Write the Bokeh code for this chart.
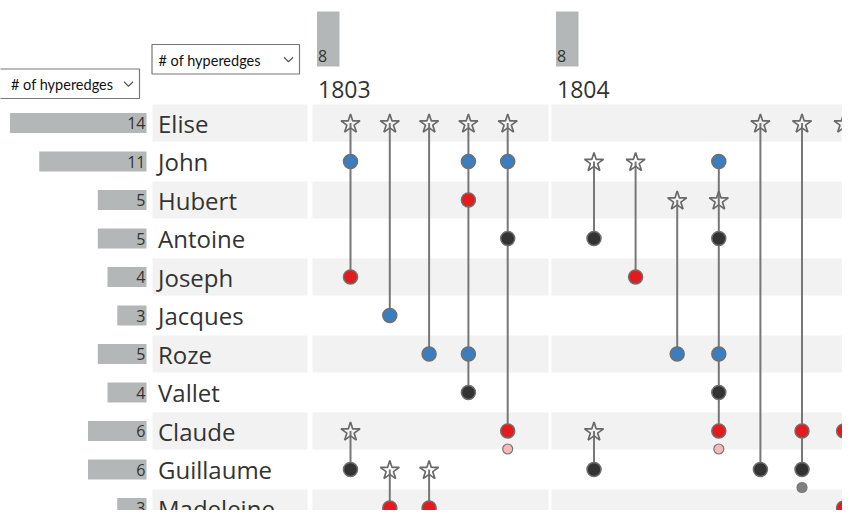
from bokeh.plotting import figure
from bokeh.models import Range1d, ColumnDataSource
from bokeh.core.properties import value
from bokeh.embed import file_html
from bokeh.resources import INLINE

# ---------------- data ----------------
names = ["Elise", "John", "Hubert", "Antoine", "Joseph", "Jacques", "Roze",
         "Vallet", "Claude", "Guillaume", "Madeleine"]
name_counts = [14, 11, 5, 5, 4, 3, 5, 4, 6, 6, 3]

years = ["1803", "1804"]
year_edge_counts = [8, 8]

# hyperedges: year index and column inside the year block
edge_year = [0, 0, 0, 0, 0, 0, 0, 0, 1, 1, 1, 1, 1, 1, 1, 1]
edge_col = [0, 1, 2, 3, 4, 0, 1, 2, 0, 1, 2, 3, 4, 5, 6, 0]

# members of each hyperedge (edge index, person, role)
node_edge = [0, 0, 0,
             1, 1,
             2, 2,
             3, 3, 3, 3, 3,
             4, 4, 4, 4,
             5, 5,
             6, 6,
             7, 7,
             8, 8,
             9, 9,
             10, 10,
             11, 11, 11, 11, 11, 11,
             12, 12,
             13, 13, 13,
             14, 14, 14,
             15, 15]
node_name = ["Elise", "John", "Joseph",
             "Elise", "Jacques",
             "Elise", "Roze",
             "Elise", "John", "Hubert", "Roze", "Vallet",
             "Elise", "John", "Antoine", "Claude",
             "Claude", "Guillaume",
             "Guillaume", "Madeleine",
             "Guillaume", "Madeleine",
             "John", "Antoine",
             "John", "Joseph",
             "Hubert", "Roze",
             "John", "Hubert", "Antoine", "Roze", "Vallet", "Claude",
             "Elise", "Guillaume",
             "Elise", "Claude", "Guillaume",
             "Elise", "Claude", "Madeleine",
             "Claude", "Guillaume"]
node_role = ["star", "blue", "red",
             "star", "blue",
             "star", "blue",
             "star", "blue", "red", "blue", "dark",
             "star", "blue", "dark", "red",
             "star", "dark",
             "star", "red",
             "star", "red",
             "star", "dark",
             "star", "red",
             "star", "blue",
             "blue", "star", "dark", "blue", "dark", "red",
             "star", "dark",
             "star", "red", "dark",
             "star", "red", "red",
             "star", "dark"]

# secondary (small) markers under a member
extra_edge = [4, 11, 13]
extra_name = ["Claude", "Claude", "Guillaume"]
extra_role = ["pink", "pink", "grey"]

# ---------------- styling / layout ----------------
role_color = {"blue": "#3b7ec0", "red": "#e41a1c", "dark": "#333333",
              "pink": "#f6b9b9", "grey": "#808080"}
ROW0, ROW_STEP, BAND_H = 122.5, 38.5, 37.0
BAR_RIGHT, BAR_UNIT, BAR_H = 146.0, 9.75, 20.0
NAME_X = 157.5
SECTIONS = [(152.0, 307.0), (312.0, 548.0), (551.0, 880.0)]
YEAR_X0 = [312.0, 551.0]
COL_OFF = [38.0, 42.5]
COL_STEP = [39.3, 41.6]
GREY_BAR = "#b4b7b7"
TEXT = "#333333"
FONT = "Open Sans"
W, H = 842, 510

def row_y(name):
    return ROW0 + ROW_STEP * names.index(name)

def col_x(e):
    y = edge_year[e]
    return YEAR_X0[y] + COL_OFF[y] + COL_STEP[y] * edge_col[e]

p = figure(width=W, height=H, x_range=Range1d(0, W), y_range=Range1d(H, 0),
           output_backend="svg", toolbar_location=None, min_border=0,
           x_axis_type=None, y_axis_type=None)
p.grid.visible = False
p.outline_line_color = None
p.background_fill_color = "white"
p.border_fill_color = "white"

# row bands
bl, br, bt, bb = [], [], [], []
for i, n in enumerate(names):
    if i % 2 == 0:
        for (a, b) in SECTIONS:
            bl.append(a); br.append(b)
            bt.append(row_y(n) - BAND_H / 2); bb.append(row_y(n) + BAND_H / 2)
p.quad(left=bl, right=br, top=bt, bottom=bb, fill_color="#f2f2f2", line_color=None)

# left bars with counts
ys = [row_y(n) for n in names]
p.quad(left=[BAR_RIGHT - c * BAR_UNIT for c in name_counts], right=[BAR_RIGHT] * len(names),
       top=[y - BAR_H / 2 for y in ys], bottom=[y + BAR_H / 2 for y in ys],
       fill_color=GREY_BAR, line_color=None)
p.text(x=[BAR_RIGHT - 1] * len(names), y=ys, text=[str(c) for c in name_counts],
       text_align="right", text_baseline="middle", text_font=value(FONT),
       text_font_size=value("16px"), text_color=TEXT)
p.text(x=[NAME_X] * len(names), y=ys, text=names, text_align="left",
       text_baseline="middle", text_font=value(FONT), text_font_size=value("24px"),
       text_color=TEXT)

# year headers
yb_x = [x + 4.5 for x in YEAR_X0]
p.quad(left=yb_x, right=[x + 22.5 for x in yb_x], top=[11] * 2, bottom=[66] * 2,
       fill_color=GREY_BAR, line_color=None)
p.text(x=[x + 1 for x in yb_x], y=[55] * 2, text=[str(c) for c in year_edge_counts],
       text_align="left", text_baseline="middle", text_font=value(FONT),
       text_font_size=value("16px"), text_color=TEXT)
p.text(x=[x + 1 for x in yb_x], y=[89] * 2, text=years, text_align="left",
       text_baseline="middle", text_font=value(FONT), text_font_size=value("23px"),
       text_color=TEXT)

# dropdown boxes
dd_left = [-6.0, 151.5]
dd_right = [139.0, 299.0]
dd_top = [68.5, 44.0]
dd_bottom = [98.0, 73.5]
p.quad(left=dd_left, right=dd_right, top=dd_top, bottom=dd_bottom,
       fill_color="white", line_color="#777777", line_width=1.2)
p.text(x=[10.5, 158.0], y=[(a + b) / 2 + 1 for a, b in zip(dd_top, dd_bottom)],
       text=["# of hyperedges"] * 2, text_align="left", text_baseline="middle",
       text_font=value("Lato"), text_font_size=value("14.5px"),
       text_color="#111111")
chev_xs, chev_ys = [], []
for r, t, b in zip(dd_right, dd_top, dd_bottom):
    cx, cy = r - 11, (t + b) / 2
    chev_xs.append([cx - 4.5, cx, cx + 4.5])
    chev_ys.append([cy - 2, cy + 2.5, cy - 2])
p.multi_line(xs=chev_xs, ys=chev_ys, line_color="#555555", line_width=1.1)

# hyperedge lines
seg_x, seg_y0, seg_y1 = [], [], []
for e in range(len(edge_year)):
    rows = [row_y(node_name[k]) for k in range(len(node_edge)) if node_edge[k] == e]
    seg_x.append(col_x(e)); seg_y0.append(min(rows)); seg_y1.append(max(rows))
p.segment(x0=seg_x, y0=seg_y0, x1=seg_x, y1=seg_y1, line_color="#777777", line_width=2)

# member markers
circ = ColumnDataSource(dict(
    x=[col_x(node_edge[k]) for k in range(len(node_edge)) if node_role[k] != "star"],
    y=[row_y(node_name[k]) for k in range(len(node_edge)) if node_role[k] != "star"],
    c=[role_color[node_role[k]] for k in range(len(node_edge)) if node_role[k] != "star"]))
p.scatter("x", "y", source=circ, marker="circle", size=14, fill_color="c",
          line_color="#6f6f6f", line_width=1.5)
p.scatter(x=[col_x(node_edge[k]) for k in range(len(node_edge)) if node_role[k] == "star"],
          y=[row_y(node_name[k]) + 1 for k in range(len(node_edge)) if node_role[k] == "star"],
          marker="star", size=20, fill_alpha=0, line_color="#6a6a6a", line_width=1.7)

# small secondary markers
p.scatter(x=[col_x(e) for e in extra_edge], y=[row_y(n) + 18 for n in extra_name],
          marker="circle", size=10, fill_color=[role_color[r] for r in extra_role],
          line_color="#777777", line_width=1.2)

open("out.html", "w").write(file_html(p, INLINE))
